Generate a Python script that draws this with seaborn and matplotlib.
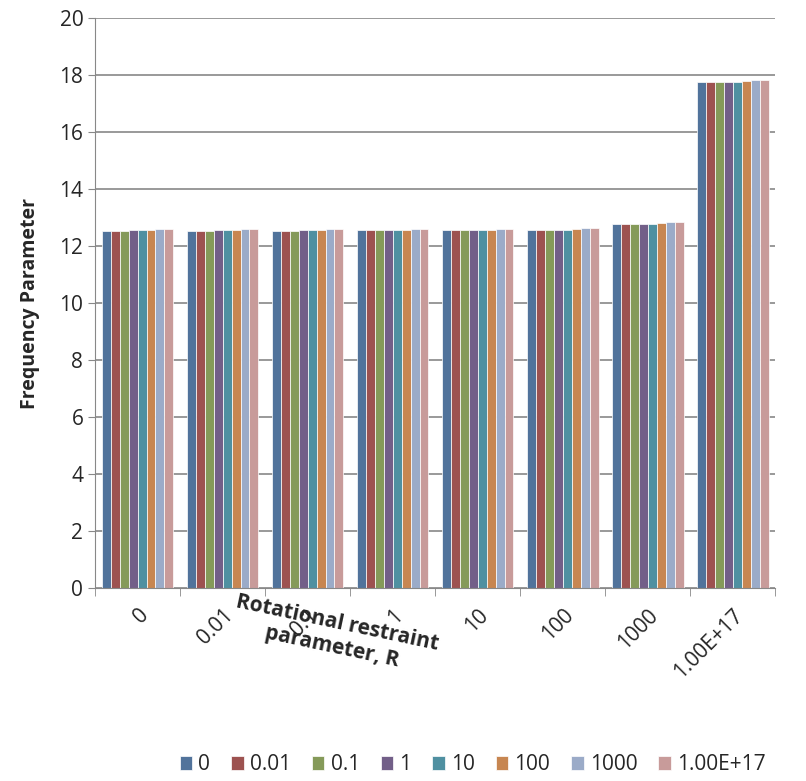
import numpy as np
import pandas as pd
import matplotlib.pyplot as plt
import seaborn as sns

groups = ['0', '0.01', '0.1', '1', '10', '100', '1000', '1.00E+17']
series = ['0', '0.01', '0.1', '1', '10', '100', '1000', '1.00E+17']
values = [
    [12.52, 12.52, 12.52, 12.55, 12.55, 12.55, 12.59, 12.59],
    [12.52, 12.52, 12.52, 12.55, 12.55, 12.55, 12.59, 12.59],
    [12.52, 12.52, 12.52, 12.55, 12.55, 12.55, 12.59, 12.59],
    [12.55, 12.55, 12.55, 12.55, 12.55, 12.55, 12.59, 12.59],
    [12.55, 12.55, 12.55, 12.55, 12.55, 12.55, 12.59, 12.59],
    [12.55, 12.55, 12.55, 12.55, 12.55, 12.59, 12.62, 12.62],
    [12.78, 12.78, 12.78, 12.78, 12.78, 12.81, 12.84, 12.84],
    [17.74, 17.74, 17.74, 17.74, 17.75, 17.79, 17.82, 17.84],
]
colors = ['#4572a7', '#aa4643', '#89a54e', '#71588f', '#4198af', '#db843d', '#93a9cf', '#d09392']

rows = []
for g, vals in zip(groups, values):
    for s, v in zip(series, vals):
        rows.append({'R': g, 'series': s, 'value': v})
df = pd.DataFrame(rows)

sns.set_style('white')
plt.rcParams['font.family'] = ['Open Sans', 'DejaVu Sans']
fig = plt.figure(figsize=(8.06, 7.81), dpi=100)
ax = fig.add_axes([0.118, 0.247, 0.844, 0.73])
sns.barplot(data=df, x='R', y='value', hue='series', palette=colors,
            width=0.84, gap=0, edgecolor='white', linewidth=0.5, ax=ax)
ax.set_ylim(0, 20)
ax.set_yticks(range(0, 21, 2))
ax.yaxis.grid(True, color='#888888', linewidth=1.2)
ax.set_axisbelow(True)
for sp in ['top', 'right']:
    ax.spines[sp].set_visible(False)
ax.spines['left'].set_color('#888888')
ax.spines['bottom'].set_color('#888888')
ax.tick_params(axis='y', labelsize=15, length=5, color='#888888', direction='out', left=True)
ax.tick_params(axis='x', labelsize=15, length=0, pad=12)
ax.set_xticks(np.arange(-0.5, 8, 1), minor=True)
ax.tick_params(axis='x', which='minor', length=6, color='#888888', bottom=True, direction='out')
plt.setp(ax.get_xticklabels(), rotation=45, ha='right', rotation_mode='anchor')
ax.set_xlabel('')
ax.set_ylabel('Frequency Parameter', fontsize=14, fontweight='bold', labelpad=14)
fig.text(0.415, 0.187, 'Rotational restraint\nparameter, R', ha='center', va='center',
         fontsize=15, fontweight='bold', rotation=-12, linespacing=1.2)
ax.legend(loc='center', bbox_to_anchor=(0.555, -0.31), ncol=8, frameon=False,
          fontsize=15, handlelength=0.6, handleheight=0.6, columnspacing=1.0, handletextpad=0.3)
fig.savefig('out.png', dpi=100)
